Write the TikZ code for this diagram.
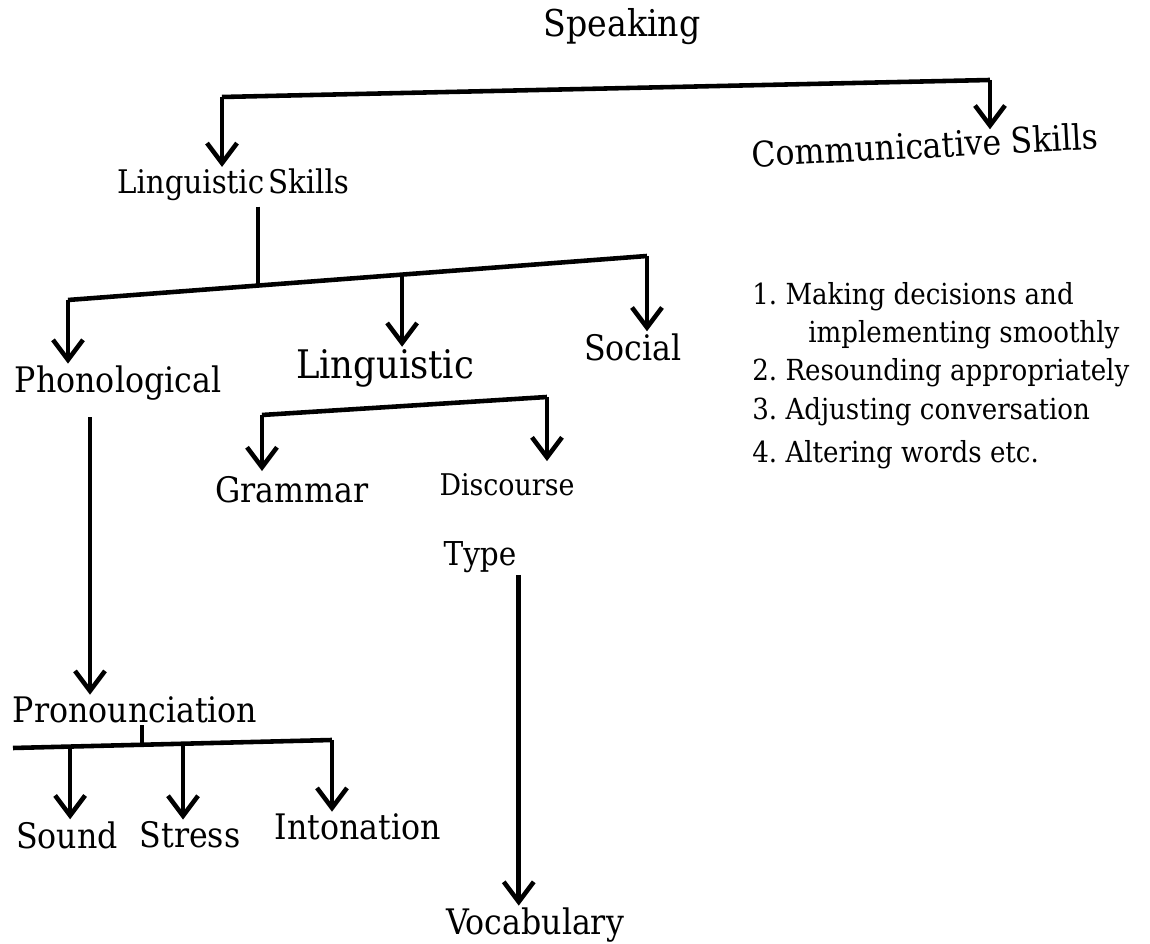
\documentclass[tikz,border=0pt]{standalone}
\usepackage{fontspec}
\setmainfont{DejaVu Serif Condensed}
\usetikzlibrary{arrows.meta, positioning, calc}

\begin{document}
\begin{tikzpicture}[line join=round,
    every node/.style={inner sep=1pt}]
  % text and line styles
  \tikzstyle{nodeT}=[font=\fontsize{20}{24}\selectfont]
  \tikzstyle{nodeS}=[font=\fontsize{17}{20}\selectfont]
  \tikzstyle{itemL}=[font=\fontsize{16.5}{19}\selectfont, anchor=west, inner sep=0pt]
  \tikzstyle{bar}=[line width=2.6pt]
  \tikzstyle{arr}=[line width=2.6pt, -{Straight Barb[length=4mm,width=6mm]}]

  \useasboundingbox (0,0) rectangle (23,18.88);

  % tree nodes
  \node[nodeT, scale=1.05] (l_speak) at (12.44,18.34) {Speaking};
  \node[nodeT, font=\fontsize{18.5}{22}\selectfont] (l_lingsk) at (4.66,15.18) {Linguistic\hspace{0.12em}Skills};
  \node[nodeT, rotate=3] (l_comm) at (18.5,15.98) {Communicative Skills};
  \node[nodeT] (l_phon)   at (2.36,11.22)  {Phonological};
  \node[nodeT, scale=1.12] (l_ling) at (7.7,11.52) {Linguistic};
  \node[nodeT] (l_soc)    at (12.66,11.94) {Social};
  \node[nodeT] (l_gram)   at (5.84,9.08)   {Grammar};
  \node[nodeS] (l_disc)   at (10.14,9.18)  {Discourse};
  \node[nodeS, scale=1.1] (l_type) at (9.6,7.74) {Type};
  \node[nodeT] (l_pron)   at (2.7,4.68)    {Pronounciation};
  \node[nodeT] (l_sound)  at (1.34,2.18)   {Sound};
  \node[nodeT] (l_stress) at (3.8,2.18)    {Stress};
  \node[nodeT] (l_inton)  at (7.16,2.34)   {Intonation};
  \node[nodeT] (l_vocab)  at (10.7,0.38)   {Vocabulary};

  % list under Communicative Skills
  \node[itemL] (i_1)  at (15.04,12.94) {1.\ Making decisions and};
  \node[itemL] (i_1b) at (16.16,12.18) {implementing smoothly};
  \node[itemL] (i_2)  at (15.04,11.42) {2.\ Resounding appropriately};
  \node[itemL] (i_3)  at (15.04,10.64) {3.\ Adjusting conversation};
  \node[itemL] (i_4)  at (15.04,9.78)  {4.\ Altering words etc.};

  % bar ends
  \coordinate (b1_l) at (4.44,16.94);
  \coordinate (b1_r) at (19.8,17.28);
  \coordinate (b2_l) at (1.36,12.88);
  \coordinate (b2_r) at (12.94,13.76);
  \coordinate (b3_l) at (5.24,10.58);
  \coordinate (b3_r) at (10.94,10.94);
  \coordinate (b4_l) at (0.26,3.92);
  \coordinate (b4_r) at (6.64,4.08);
  \coordinate (b2_m) at ($(b2_l)!0.328!(b2_r)$);
  \coordinate (b2_c) at ($(b2_l)!0.577!(b2_r)$);
  \coordinate (b4_m) at ($(b4_l)!0.404!(b4_r)$);
  \coordinate (b4_a) at ($(b4_l)!0.179!(b4_r)$);
  \coordinate (b4_b) at ($(b4_l)!0.533!(b4_r)$);

  % Speaking
  \draw[bar] (b1_l) -- (b1_r);
  \draw[arr] (b1_l) -- (b1_l |- l_lingsk.north);
  \draw[arr] (b1_r) -- (b1_r |- l_comm.north);

  % Linguistic Skills
  \draw[bar] ([yshift=-2pt]l_lingsk.south -| b2_m) -- (b2_m);
  \draw[bar] (b2_l) -- (b2_r);
  \draw[arr] (b2_l) -- (b2_l |- l_phon.north);
  \draw[arr] (b2_c) -- (b2_c |- l_ling.north);
  \draw[arr] (b2_r) -- (b2_r |- l_soc.north);

  % Linguistic
  \draw[bar] (b3_l) -- (b3_r);
  \draw[arr] (b3_l) -- ([yshift=2pt]b3_l |- l_gram.north);
  \draw[arr] (b3_r) -- ([yshift=6pt]b3_r |- l_disc.north);

  % Phonological and Type
  \draw[arr] ([xshift=-0.56cm,yshift=-0.3cm]l_phon.south) -- ([xshift=-0.56cm]l_phon.south |- l_pron.north);
  \draw[arr] (l_type.south east) -- (l_type.south east |- l_vocab.north);

  % Pronounciation
  \draw[bar] (l_pron.south -| b4_m) -- (b4_m);
  \draw[bar] (b4_l) -- (b4_r);
  \draw[arr] (b4_a) -- (b4_a |- l_sound.north);
  \draw[arr] (b4_b) -- (b4_b |- l_stress.north);
  \draw[arr] (b4_r) -- (b4_r |- l_inton.north);
\end{tikzpicture}
\end{document}
